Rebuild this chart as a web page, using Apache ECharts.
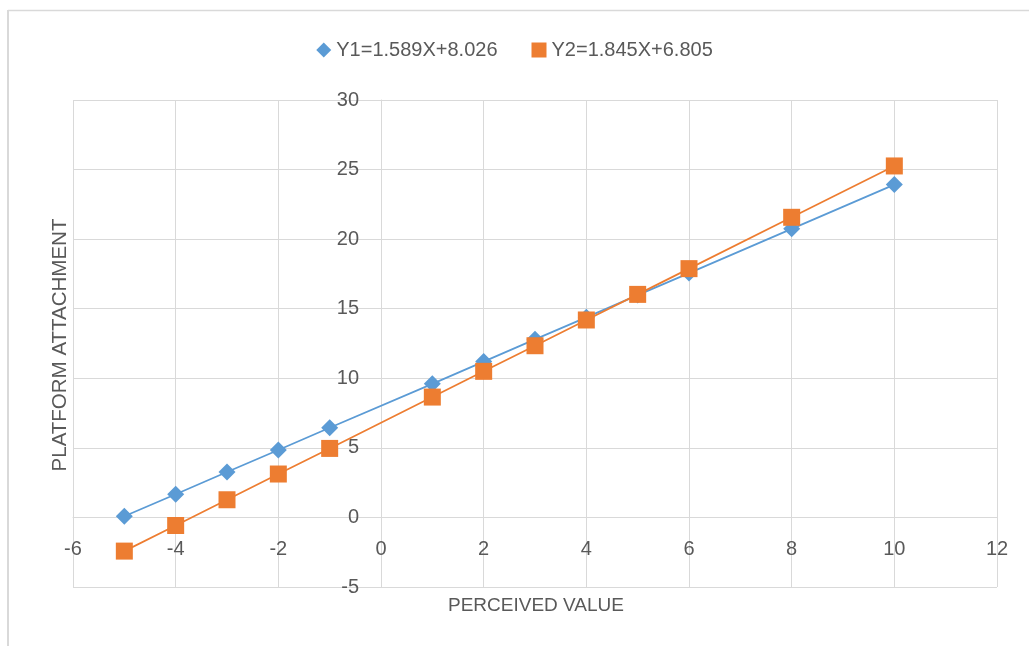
<!DOCTYPE html>
<html>
<head>
<meta charset="utf-8">
<script src="https://cdn.jsdelivr.net/npm/echarts@6/dist/echarts.min.js"></script>
<style>
html,body{margin:0;padding:0;background:#fff;}
#chart{width:1029px;height:646px;}
</style>
</head>
<body>
<div id="chart"></div>
<script>
const xValues = [-5, -4, -3, -2, -1, 1, 2, 3, 4, 5, 6, 8, 10];
const y1Values = [0.08, 1.67, 3.26, 4.85, 6.44, 9.6, 11.2, 12.8, 14.38, 15.98, 17.56, 20.74, 23.92];
const y2Values = [-2.42, -0.58, 1.27, 3.12, 4.96, 8.65, 10.5, 12.34, 14.19, 16.03, 17.88, 21.57, 25.26];
const y1Name = 'Y1=1.589X+8.026';
const y2Name = 'Y2=1.845X+6.805';
const xTitle = 'PERCEIVED VALUE';
const yTitle = 'PLATFORM ATTACHMENT';
const xMin = -6, xMax = 12, xStep = 2;
const yMin = -5, yMax = 30, yStep = 5;

const font = 'Liberation Sans';
const txt = '#595959';
const gridC = '#d9d9d9';

const W = 1029, H = 646;
const G = { left: 73, right: 32, top: 100, bottom: 59 };
const plotW = W - G.left - G.right;
const plotH = H - G.top - G.bottom;
// place axes so they cross at zero (Excel style)
const yAxisOffset = -((0 - xMin) / (xMax - xMin)) * plotW;
const xAxisOffset = -((0 - yMin) / (yMax - yMin)) * plotH;

const chart = echarts.init(document.getElementById('chart'));
chart.setOption({
  animation: false,
  backgroundColor: '#fff',
  textStyle: { fontFamily: font },
  grid: { left: G.left, right: G.right, top: G.top, bottom: G.bottom, containLabel: false },
  legend: {
    top: 35, left: 'center', itemGap: 34, itemWidth: 15, itemHeight: 15,
    textStyle: { fontFamily: font, fontSize: 20, color: txt },
    data: [{ name: y1Name, icon: 'diamond' }, { name: y2Name, icon: 'rect' }]
  },
  xAxis: {
    type: 'value', min: xMin, max: xMax, interval: xStep,
    position: 'bottom', offset: xAxisOffset,
    axisLine: { show: true, onZero: false, lineStyle: { color: gridC, width: 1 } },
    axisTick: { show: false },
    axisLabel: { fontFamily: font, fontSize: 20, color: txt, margin: 22 },
    splitLine: { show: true, lineStyle: { color: gridC, width: 1 } }
  },
  yAxis: {
    type: 'value', min: yMin, max: yMax, interval: yStep,
    position: 'left', offset: yAxisOffset,
    axisLine: { show: true, onZero: false, lineStyle: { color: gridC, width: 1 } },
    axisTick: { show: false },
    axisLabel: { fontFamily: font, fontSize: 20, color: txt, margin: 22 },
    splitLine: { show: true, lineStyle: { color: gridC, width: 1 } }
  },
  graphic: [
    { type: 'line', shape: { x1: 8, y1: 10.5, x2: 1029, y2: 10.5 }, style: { stroke: gridC, lineWidth: 1.5 }, silent: true },
    { type: 'line', shape: { x1: 8, y1: 10, x2: 8, y2: 646 }, style: { stroke: gridC, lineWidth: 2 }, silent: true },
    { type: 'text', x: 536, y: 606, style: { text: xTitle, font: '19px "Liberation Sans"', fill: txt, textAlign: 'center', textVerticalAlign: 'middle' } },
    { type: 'text', x: 60, y: 345, rotation: Math.PI / 2, style: { text: yTitle, font: '20.5px "Liberation Sans"', fill: txt, textAlign: 'center', textVerticalAlign: 'middle' } }
  ],
  series: [
    {
      name: y1Name, type: 'line', data: xValues.map((x, i) => [x, y1Values[i]]),
      symbol: 'diamond', symbolSize: 17, showAllSymbol: true,
      itemStyle: { color: '#5B9BD5' }, lineStyle: { color: '#5B9BD5', width: 1.75 }, z: 3
    },
    {
      name: y2Name, type: 'line', data: xValues.map((x, i) => [x, y2Values[i]]),
      symbol: 'rect', symbolSize: 17, showAllSymbol: true,
      itemStyle: { color: '#ED7D31' }, lineStyle: { color: '#ED7D31', width: 1.75 }, z: 4
    }
  ]
});
</script>
</body>
</html>
